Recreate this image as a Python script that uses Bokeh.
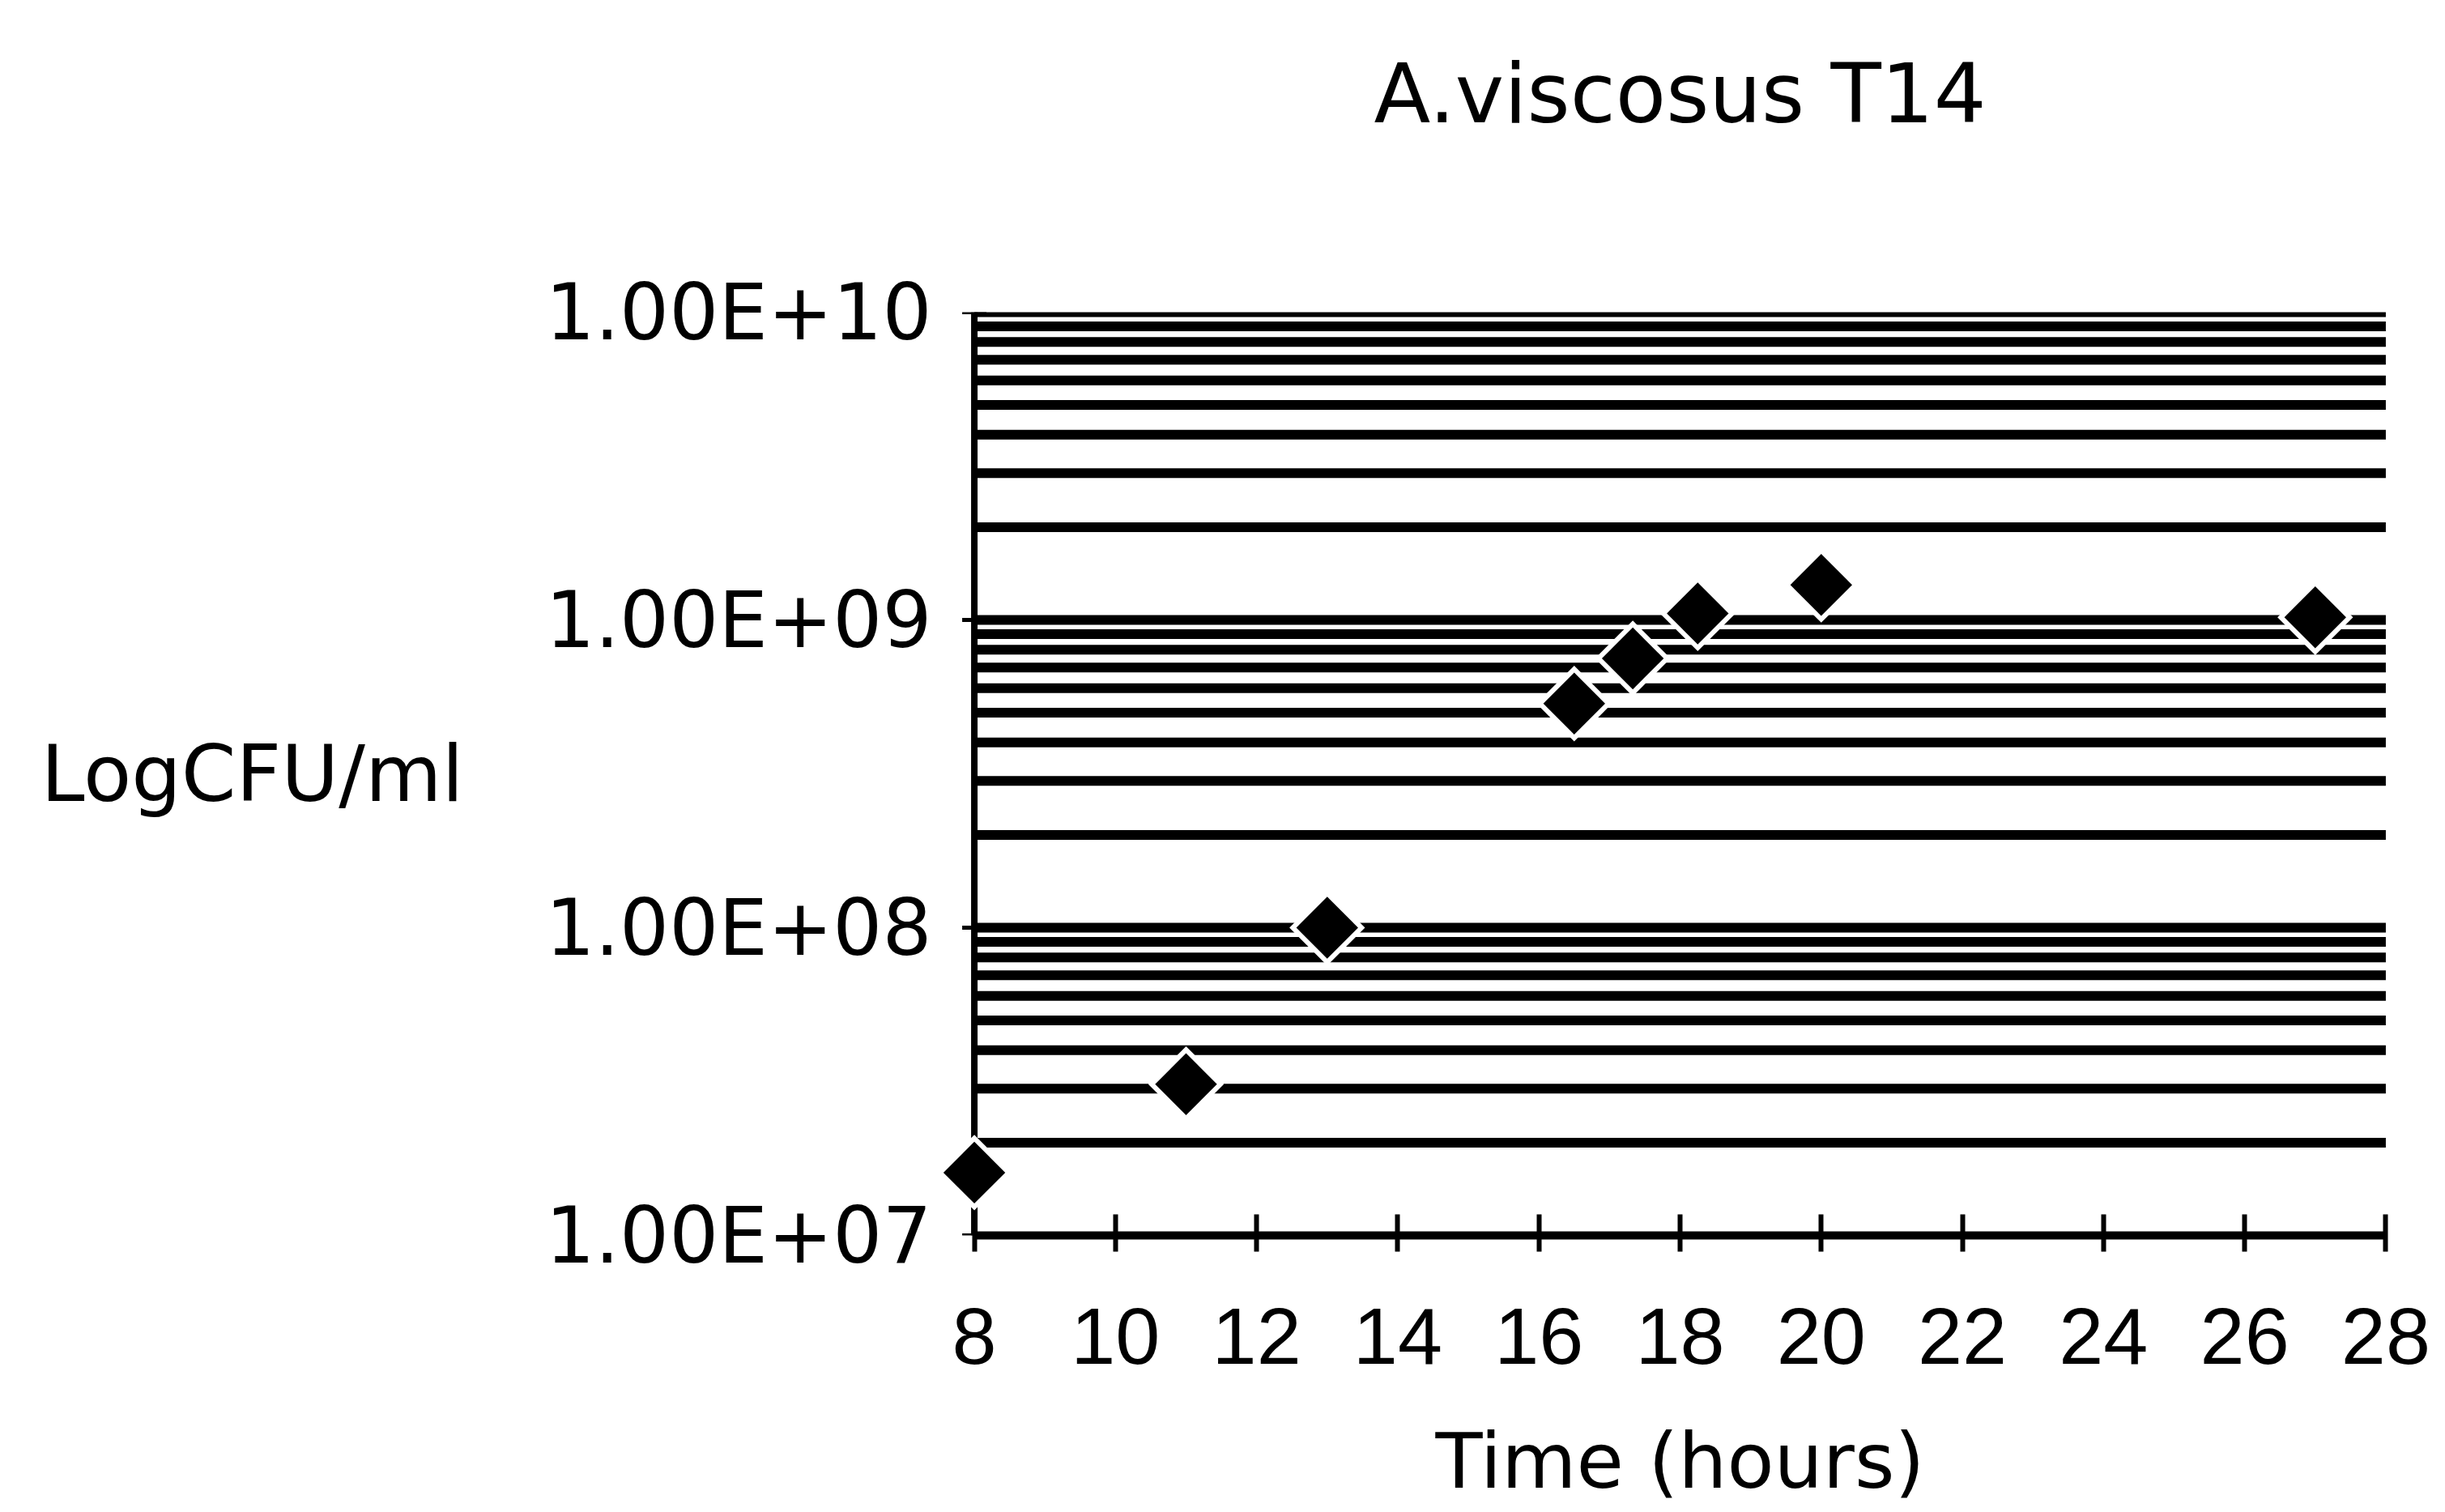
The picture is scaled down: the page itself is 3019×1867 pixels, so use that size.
import numpy as np
from bokeh.plotting import figure
from bokeh.models import FixedTicker, Range1d, LinearAxis, CustomJSTickFormatter
from bokeh.embed import file_html
from bokeh.resources import INLINE

# ---- data ----
time_hours = [8, 11, 13, 16.5, 17.33, 18.25, 20, 27]
cfu_per_ml = [1.6e7, 3.1e7, 1.0e8, 5.35e8, 7.5e8, 1.05e9, 1.3e9, 1.02e9]

x_ticks = [8, 10, 12, 14, 16, 18, 20, 22, 24, 26, 28]
y_ticks = [1e7, 1e8, 1e9, 1e10]
y_tick_labels = ["1.00E+07", "1.00E+08", "1.00E+09", "1.00E+10"]
y_minor = [m * d for d in [1e7, 1e8, 1e9] for m in range(2, 10)]

title_text = "A.viscosus T14"
y_title = "LogCFU/ml"
x_title = "Time (hours)"

x_start, x_end = x_ticks[0], x_ticks[-1]
y_start, y_end = y_ticks[0], y_ticks[-1]

W, H = 3019, 1867
L, R, T, B = 1159, 30, 385, 342

p = figure(width=W, height=H, output_backend="svg", toolbar_location=None,
           y_axis_type="log",
           x_range=Range1d(x_start - 0.5, x_end + 0.5), y_range=Range1d(y_start, y_end),
           min_border_left=L, min_border_right=R,
           min_border_top=T, min_border_bottom=B)
p.outline_line_color = None
p.background_fill_color = "white"
p.border_fill_color = "white"
p.xgrid.visible = False
p.ygrid.visible = False

# horizontal grid lines (major + minor decades), thick black, from x=8 to x=28
grid_levels = y_ticks[1:] + y_minor
p.segment(x0=[x_start] * len(grid_levels), x1=[x_end] * len(grid_levels),
          y0=grid_levels, y1=grid_levels, line_color="black", line_width=12,
          line_cap="butt")

# vertical axis line at x = 8 with its tick marks
p.segment(x0=[x_start], x1=[x_start], y0=[y_start], y1=[y_end],
          line_color="black", line_width=8, line_cap="butt")
p.scatter([x_start] * len(y_ticks), y_ticks, marker="dash", size=30,
          line_color="black", line_width=5)

# x axis
xa = p.xaxis[0]
xa.ticker = FixedTicker(ticks=x_ticks)
xa.bounds = (x_start, x_end)
xa.axis_line_width = 10
xa.axis_line_color = "black"
xa.major_tick_in = 26
xa.major_tick_out = 20
xa.major_tick_line_width = 6
xa.minor_tick_out = 0
xa.minor_tick_in = 0
xa.major_label_text_font = "Liberation Sans"
xa.major_label_text_font_size = "99px"
xa.major_label_text_color = "black"
xa.major_label_standoff = 70
xa.axis_label = x_title
xa.axis_label_text_font = "DejaVu Sans"
xa.axis_label_text_font_size = "95px"
xa.axis_label_text_font_style = "normal"
xa.axis_label_text_color = "black"
xa.axis_label_standoff = 62

# y axis: labels only (line and ticks drawn at x = 8 above)
ya = p.yaxis[0]
ya.ticker = FixedTicker(ticks=y_ticks, minor_ticks=[])
ya.formatter = CustomJSTickFormatter(args=dict(tick_values=y_ticks, tick_labels=y_tick_labels), code="""
    for (let i = 0; i < tick_values.length; i++) {
        if (Math.abs(Math.log10(tick_values[i]) - Math.log10(tick)) < 1e-6) { return tick_labels[i]; }
    }
    return "";
""")
ya.axis_line_color = None
ya.major_tick_line_color = None
ya.minor_tick_line_color = None
ya.major_tick_in = 0
ya.major_tick_out = 0
ya.minor_tick_out = 0
ya.minor_tick_in = 0
ya.major_label_text_font = "DejaVu Sans"
ya.major_label_text_font_size = "96px"
ya.major_label_text_color = "black"
ya.major_label_standoff = 9
ya.axis_label = y_title
ya.axis_label_orientation = "horizontal"
ya.axis_label_text_font = "DejaVu Sans"
ya.axis_label_text_font_size = "97px"
ya.axis_label_text_font_style = "normal"
ya.axis_label_text_color = "black"
ya.axis_label_standoff = 98

# title carried by an empty axis above the frame
ta = LinearAxis(ticker=FixedTicker(ticks=[]), axis_label=title_text)
ta.axis_line_color = None
ta.major_tick_line_color = None
ta.minor_tick_line_color = None
ta.major_tick_out = 0
ta.major_tick_in = 0
ta.minor_tick_out = 0
ta.minor_tick_in = 0
ta.major_label_standoff = 0
ta.axis_label_text_font = "DejaVu Sans"
ta.axis_label_text_font_size = "102px"
ta.axis_label_text_font_style = "normal"
ta.axis_label_text_color = "black"
ta.axis_label_standoff = 211
p.add_layout(ta, "above")

# points: white halo then black diamond, drawn above the axis line
p.scatter(time_hours, cfu_per_ml, marker="square", angle=np.pi / 4,
          size=66, fill_color="white", line_color=None, level="overlay")
p.scatter(time_hours, cfu_per_ml, marker="square", angle=np.pi / 4,
          size=54, fill_color="black", line_color=None, level="overlay")

open("out.html", "w").write(file_html(p, INLINE))
